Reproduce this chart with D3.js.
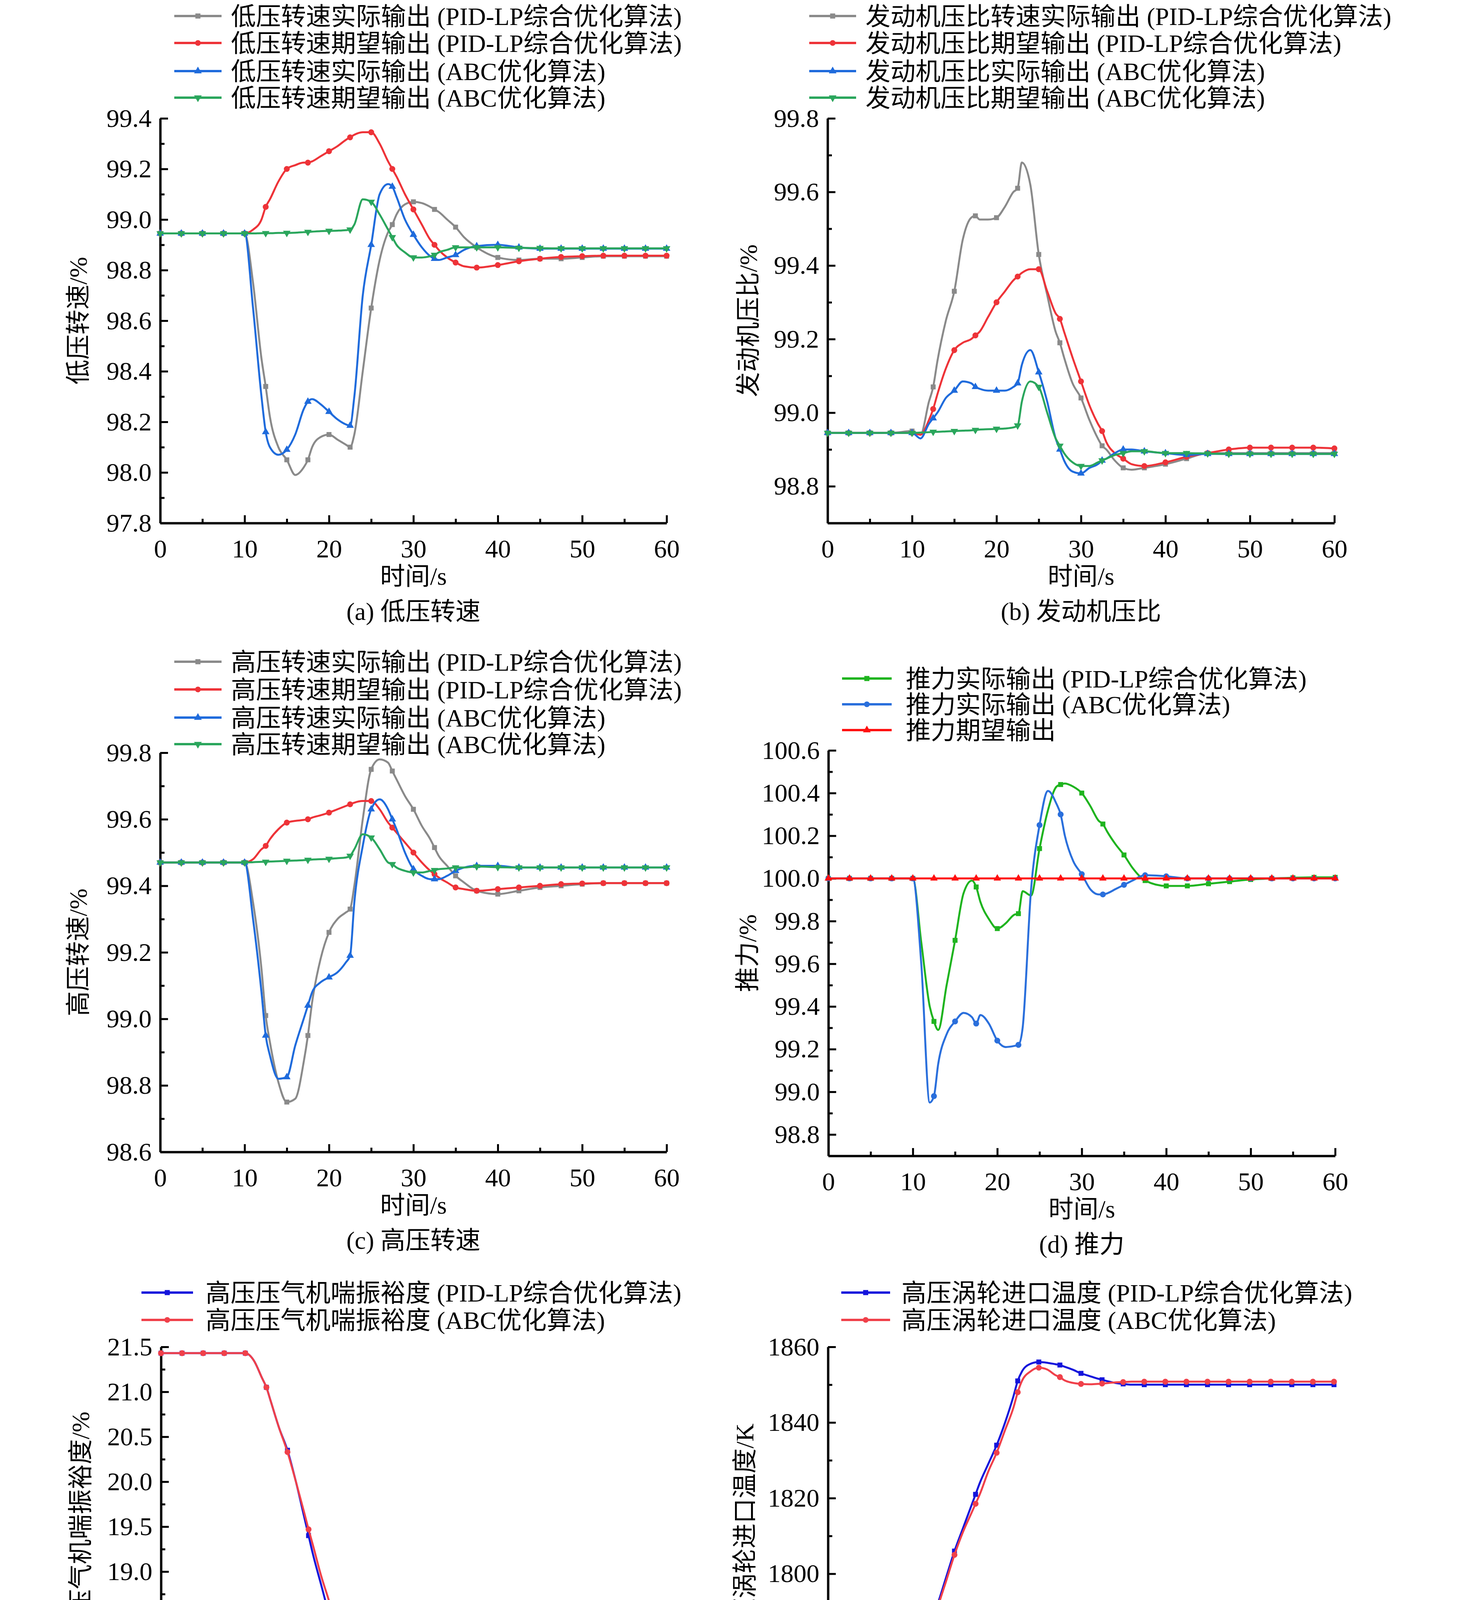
<!DOCTYPE html>
<html>
<head>
<meta charset="utf-8">
<script src="https://cdn.jsdelivr.net/npm/d3@7"></script>
<style>
  html, body { margin: 0; padding: 0; background: #fff; }
  svg { display: block; }
  text { font-family: "Liberation Serif", "Noto Sans CJK SC", serif; fill: #000; }
</style>
</head>
<body>
<svg id="chart" width="3780" height="7813" viewBox="0 0 3780 7813"></svg>
<script>
// time points shared by every series
var T = [0, 2.5, 5, 7.5, 10, 11, 12, 12.5, 13, 14, 15, 16, 17, 17.5, 18, 19, 20, 21, 22, 22.5,
  23, 24, 25, 26, 27, 27.5, 28, 29, 30, 31, 32, 32.5, 33, 34, 35, 36, 37.5, 40, 42.5, 45,
  47.5, 50, 52.5, 55, 57.5, 60];

// (a) low pressure spool speed
var aGray = [98.945,98.945,98.945,98.945,98.945, 98.75,98.45,98.34,98.22,98.1, 98.05,97.99,98.02,98.05,98.1,
  98.14,98.15,98.13,98.11,98.10, 98.15,98.4,98.65,98.84,98.95, 98.98,99.02,99.06,99.07,99.065,
  99.05,99.04,99.03,99.0,98.97, 98.93,98.89,98.85,98.84,98.845, 98.845,98.85,98.855,98.855,98.855, 98.855];
var aRed = [98.945,98.945,98.945,98.945,98.945, 98.96,99.0,99.05,99.08,99.15, 99.2,99.215,99.225,99.225,99.23,
  99.25,99.27,99.29,99.315,99.325, 99.335,99.345,99.345,99.3,99.23, 99.2,99.17,99.1,99.04,98.98,
  98.92,98.9,98.88,98.85,98.83, 98.815,98.81,98.82,98.835,98.845, 98.852,98.855,98.857,98.857,98.857, 98.857];
var aBlue = [98.945,98.945,98.945,98.945,98.945, 98.65,98.3,98.16,98.1,98.07, 98.09,98.15,98.25,98.28,98.29,
  98.27,98.24,98.21,98.19,98.185, 98.3,98.7,98.9,99.1,99.14, 99.13,99.09,99.0,98.94,98.89,
  98.855,98.845,98.84,98.85,98.86, 98.88,98.895,98.9,98.89,98.885, 98.885,98.885,98.885,98.885,98.885, 98.885];
var aGreen = [98.945,98.945,98.945,98.945,98.945, 98.945,98.946,98.946,98.946,98.947, 98.947,98.948,98.95,98.951,98.952,
  98.954,98.955,98.956,98.958,98.96, 98.98,99.08,99.07,99.02,98.96, 98.93,98.9,98.87,98.85,98.85,
  98.855,98.86,98.87,98.88,98.89, 98.89,98.89,98.89,98.888,98.887, 98.886,98.886,98.886,98.886,98.886, 98.886];

// (b) engine pressure ratio
var bGray = [98.945,98.945,98.945,98.945,98.95, 98.94,99.03,99.07,99.14,99.25, 99.33,99.47,99.53,99.535,99.525,
  99.525,99.53,99.56,99.6,99.61, 99.68,99.62,99.43,99.32,99.22, 99.19,99.15,99.08,99.04,98.98,
  98.93,98.91,98.9,98.87,98.85, 98.845,98.85,98.86,98.875,98.89, 98.89,98.89,98.89,98.89,98.89, 98.89];
var bRed = [98.945,98.945,98.945,98.945,98.945, 98.94,98.98,99.01,99.05,99.12, 99.17,99.19,99.2,99.21,99.22,
  99.26,99.3,99.33,99.36,99.37, 99.38,99.39,99.39,99.33,99.27, 99.255,99.22,99.15,99.085,99.02,
  98.97,98.95,98.92,98.89,98.875, 98.86,98.855,98.865,98.88,98.89, 98.9,98.905,98.905,98.905,98.905, 98.903];
var bBlue = [98.945,98.945,98.945,98.945,98.945, 98.93,98.97,98.985,99.0,99.04, 99.06,99.085,99.08,99.07,99.065,
  99.06,99.06,99.06,99.07,99.08, 99.13,99.17,99.11,99.03,98.93, 98.9,98.87,98.84,98.835,98.85,
  98.86,98.87,98.875,98.89,98.9, 98.9,98.895,98.89,98.885,98.888, 98.888,98.888,98.888,98.888,98.888, 98.888];
var bGreen = [98.945,98.945,98.945,98.945,98.945, 98.946,98.947,98.948,98.948,98.949, 98.95,98.951,98.952,98.953,98.954,
  98.955,98.956,98.957,98.96,98.965, 99.03,99.085,99.07,99.0,98.93, 98.91,98.89,98.865,98.855,98.855,
  98.865,98.87,98.875,98.885,98.89, 98.895,98.895,98.89,98.89,98.889, 98.888,98.888,98.888,98.888,98.888, 98.888];

// (c) high pressure spool speed
var cGray = [99.47,99.47,99.47,99.47,99.47, 99.35,99.15,99.01,98.93,98.81, 98.75,98.76,98.87,98.95,99.05,
  99.18,99.26,99.3,99.32,99.33, 99.4,99.6,99.75,99.78,99.77, 99.745,99.72,99.67,99.63,99.58,
  99.54,99.515,99.49,99.46,99.43, 99.41,99.385,99.375,99.385,99.395, 99.4,99.405,99.408,99.408,99.408, 99.408];
var cRed = [99.47,99.47,99.47,99.47,99.47, 99.48,99.51,99.52,99.54,99.57, 99.59,99.595,99.598,99.6,99.605,
  99.612,99.62,99.63,99.64,99.645, 99.65,99.655,99.655,99.63,99.59, 99.575,99.56,99.53,99.5,99.47,
  99.445,99.435,99.425,99.41,99.395, 99.39,99.385,99.39,99.395,99.4, 99.405,99.407,99.408,99.408,99.408, 99.408];
var cBlue = [99.47,99.47,99.47,99.47,99.47, 99.3,99.08,98.95,98.89,98.82, 98.825,98.92,99.0,99.04,99.08,
  99.11,99.125,99.14,99.17,99.19, 99.35,99.52,99.63,99.66,99.63, 99.6,99.57,99.5,99.45,99.43,
  99.42,99.42,99.42,99.43,99.445, 99.455,99.46,99.46,99.455,99.455, 99.455,99.455,99.455,99.455,99.455, 99.455];
var cGreen = [99.47,99.47,99.47,99.47,99.47, 99.471,99.472,99.472,99.473,99.474, 99.475,99.476,99.477,99.478,99.479,
  99.48,99.481,99.483,99.485,99.49, 99.51,99.555,99.545,99.51,99.47, 99.465,99.455,99.445,99.44,99.44,
  99.445,99.447,99.45,99.452,99.455, 99.455,99.458,99.456,99.455,99.455, 99.455,99.455,99.455,99.455,99.455, 99.455];

// (d) thrust
var dGreen = [100,100,100,100,100, 99.7,99.4,99.33,99.29,99.5, 99.71,99.93,99.99,99.96,99.89,
  99.81,99.765,99.79,99.83,99.835, 99.94,99.92,100.14,100.32,100.43, 100.44,100.445,100.43,100.40,100.34,
  100.27,100.255,100.22,100.16,100.11, 100.05,99.99,99.965,99.965,99.975, 99.985,99.995,100.0,100.003,100.005, 100.005];
var dBlue = [100,100,100,100,100, 99.6,98.95,98.98,99.13,99.27, 99.33,99.37,99.35,99.32,99.36,
  99.32,99.24,99.21,99.215,99.22, 99.3,99.95,100.25,100.41,100.35, 100.3,100.2,100.08,100.02,99.95,
  99.925,99.925,99.93,99.95,99.97, 99.99,100.015,100.01,100.0,100.0, 100,100,100,100,100, 100];
var dRed = T.map(function () { return 100; });

// (e) HPC surge margin
var eBlue = [21.43,21.43,21.43,21.43,21.43, 21.35,21.15,21.05,20.9,20.6, 20.35,20.0,19.6,19.4,19.2,
  18.85,18.5,18.2,17.9,17.74, 17.73,17.95,18.05,18.06,18.06, 18.05,18.03,18.0,17.97,17.94,
  17.92,17.91,17.895,17.88,17.87, 17.865,17.865,17.86,17.85,17.845, 17.845,17.845,17.845,17.845,17.845, 17.845];
var eRed = [21.43,21.43,21.43,21.43,21.43, 21.35,21.15,21.05,20.9,20.6, 20.33,20.0,19.65,19.47,19.3,
  18.95,18.65,18.3,18.0,17.85, 17.72,17.9,17.97,18.0,17.99, 17.96,17.93,17.9,17.88,17.87,
  17.86,17.86,17.865,17.87,17.875, 17.88,17.885,17.885,17.885,17.885, 17.885,17.885,17.885,17.885,17.885, 17.885];

// (f) HPT inlet temperature
var fBlue = [1775,1775,1775,1775,1775, 1777,1785,1789,1792,1799, 1806,1812,1818,1821,1824,
  1829,1834,1840,1847,1851, 1853.5,1855.5,1856,1855.8,1855.4, 1855.2,1854.8,1854,1853,1852.3,
  1851.6,1851.3,1851,1850.5,1850.2, 1850,1850,1850,1850,1850, 1850,1850,1850,1850,1850, 1850];
var fRed = [1775,1775,1775,1775,1775, 1776,1783,1787,1791,1798, 1805,1811,1816,1818.5,1821,
  1827,1832,1838,1844,1848, 1851,1853.5,1854.5,1854,1852.5, 1852,1851.2,1850.5,1850.2,1850.1,
  1850.2,1850.3,1850.4,1850.6,1850.7, 1850.8,1850.8,1850.8,1850.8,1850.8, 1850.8,1850.8,1850.8,1850.8,1850.8, 1850.8];

// (g) main fuel flow
var gBlue = [98.38,98.38,98.38,98.38,98.4, 98.65,99.1,99.35,99.6,100.1, 100.6,101.05,101.4,101.6,101.8,
  102.1,102.45,102.9,103.35,103.55, 103.75,103.93,103.98,103.98,103.97, 103.95,103.92,103.85,103.77,103.68,
  103.62,103.6,103.57,103.53,103.51, 103.5,103.49,103.485,103.485,103.49, 103.495,103.5,103.5,103.5,103.5, 103.5];
var gRed = [98.38,98.38,98.38,98.38,98.38, 98.5,98.9,99.15,99.4,99.9, 100.35,100.8,101.15,101.3,101.5,
  101.85,102.2,102.6,103.05,103.3, 103.55,103.82,103.89,103.85,103.75, 103.7,103.62,103.53,103.48,103.47,
  103.47,103.48,103.5,103.52,103.53, 103.535,103.54,103.535,103.53,103.53, 103.53,103.53,103.53,103.53,103.53, 103.53];

// (h) nozzle throat area
var hBlue = [95.17,95.17,95.17,95.17,95.17, 95.17,95.2,95.25,95.3,95.4, 95.6,96.0,96.4,96.65,96.9,
  97.4,97.9,98.3,98.65,98.85, 99.2,99.7,99.9,99.93,99.88, 99.85,99.8,99.72,99.64,99.56,
  99.5,99.47,99.44,99.39,99.35, 99.32,99.3,99.3,99.31,99.32, 99.33,99.34,99.34,99.345,99.345, 99.345];
var hRed = [95.17,95.17,95.17,95.17,95.17, 95.15,95.1,95.15,95.3,95.55, 95.85,96.4,96.8,97.0,97.3,
  97.7,97.95,98.3,98.75,98.95, 99.2,99.65,99.8,99.83,99.72, 99.67,99.6,99.47,99.42,99.4,
  99.4,99.41,99.42,99.44,99.455, 99.465,99.47,99.47,99.465,99.465, 99.465,99.465,99.465,99.465,99.465, 99.465];

// (i) rear variable bypass ejector area
var iBlue = [112.7,112.7,112.7,112.7,112.7, 112.2,110.8,109.8,108.5,105.5, 101.5,97.2,92.5,90.8,89.3,
  86.7,84.3,82.7,81.0,80.0, 79.3,78.3,78.4,79.2,80.0, 80.3,80.8,81.5,82.2,82.8,
  83.3,83.5,83.7,84.0,84.3, 84.45,84.5,84.35,84.15,84.05, 84.0,83.95,83.95,83.95,83.95, 83.95];
var iRed = [112.5,112.5,112.5,112.5,112.5, 112.0,110.3,109.0,107.5,104.3, 100.4,96.5,94.0,92.7,91.5,
  89.3,87.2,85.5,83.8,82.7, 81.9,81.1,81.3,82.1,82.9, 83.1,83.4,83.8,84.0,83.95,
  83.8,83.7,83.6,83.45,83.4, 83.38,83.38,83.45,83.45,83.45, 83.45,83.45,83.45,83.45,83.45, 83.45];

var svg = d3.select("#chart");
var FONT = 64;

function drawPanel(p) {
  var x = d3.scaleLinear().domain([0, 60]).range([p.x0, p.x1]);
  var y = d3.scaleLinear().domain(p.yDomain).range([p.yBottom, p.yTop]);
  var g = svg.append("g");

  // axes with inward ticks
  var xMinor = d3.range(0, 61, 5).filter(function (v) { return v % 10 != 0; });
  g.append("g").attr("transform", "translate(0," + p.yBottom + ")")
    .call(d3.axisBottom(x).tickValues(xMinor).tickSize(-11).tickFormat(""))
    .call(function (s) { s.select(".domain").remove(); s.selectAll("line").attr("stroke-width", 5); });
  var xa = g.append("g").attr("transform", "translate(0," + p.yBottom + ")")
    .call(d3.axisBottom(x).tickValues(d3.range(0, 61, 10)).tickSize(-20).tickPadding(40).tickSizeOuter(0));
  xa.selectAll("text").attr("font-size", 66).attr("dy", "0.72em");

  var yMinor = d3.range(p.yDomain[0], p.yDomain[1] + 1e-9, p.step / 2)
    .filter(function (v) { return Math.abs(v / p.step - Math.round(v / p.step)) > 1e-6; });
  g.append("g").attr("transform", "translate(" + p.x0 + ",0)")
    .call(d3.axisLeft(y).tickValues(yMinor).tickSize(-11).tickFormat(""))
    .call(function (s) { s.select(".domain").remove(); s.selectAll("line").attr("stroke-width", 5); });
  var yMajor = d3.range(Math.ceil(p.yDomain[0] / p.step - 1e-6) * p.step, p.yDomain[1] + 1e-9, p.step);
  var ya = g.append("g").attr("transform", "translate(" + p.x0 + ",0)")
    .call(d3.axisLeft(y).tickValues(yMajor).tickSize(-20).tickPadding(22).tickSizeOuter(0).tickFormat(d3.format(p.fmt)));
  ya.selectAll("text").attr("font-size", 66);
  [xa, ya].forEach(function (a) {
    a.select(".domain").attr("stroke-width", 6);
    a.selectAll(".tick line").attr("stroke-width", 5);
    a.attr("font-family", null);
  });

  // series
  var line = d3.line().x(function (d) { return x(d[0]); }).y(function (d) { return y(d[1]); })
    .curve(d3.curveMonotoneX);
  p.series.forEach(function (s) {
    var pts = T.map(function (t, i) { return [t, s.values[i]]; });
    g.append("path").datum(pts).attr("d", line).attr("fill", "none")
      .attr("stroke", s.color).attr("stroke-width", 5);
    g.selectAll(null).data(pts.filter(function (d) { return d[0] % 2.5 === 0; })).enter()
      .append("path")
      .attr("d", d3.symbol().type(s.symbol).size(s.symbol === d3.symbolCircle ? 180 : 160))
      .attr("transform", function (d) {
        return "translate(" + x(d[0]) + "," + y(d[1]) + ")" + (s.flip ? " rotate(180)" : "");
      })
      .attr("fill", s.color);
  });

  // legend
  p.series.forEach(function (s, i) {
    var ly = p.legendY[i];
    g.append("line").attr("x1", p.legX0).attr("x2", p.legX1).attr("y1", ly).attr("y2", ly)
      .attr("stroke", s.color).attr("stroke-width", 6);
    g.append("path").attr("d", d3.symbol().type(s.symbol).size(170))
      .attr("transform", "translate(" + (p.legX0 + p.legX1) / 2 + "," + ly + ")" + (s.flip ? " rotate(180)" : ""))
      .attr("fill", s.color);
    g.append("text").attr("x", p.legText).attr("y", ly).attr("dy", "0.36em")
      .attr("font-size", FONT).text(s.name);
  });

  // titles
  var cx = (p.x0 + p.x1) / 2;
  g.append("text").attr("x", cx).attr("y", p.yBottom + 135).attr("dy", "0.36em")
    .attr("text-anchor", "middle").attr("font-size", FONT).text("时间/s");
  g.append("text").attr("x", cx).attr("y", p.yBottom + 225).attr("dy", "0.36em")
    .attr("text-anchor", "middle").attr("font-size", FONT).text(p.caption);
  g.append("text").attr("transform", "translate(" + p.yTitleX + "," + (p.yTop + p.yBottom) / 2 + ") rotate(-90)")
    .attr("dy", "0.36em").attr("text-anchor", "middle").attr("font-size", FONT).text(p.yTitle);
}

var SQ = d3.symbolSquare, CI = d3.symbolCircle, TR = d3.symbolTriangle;
var GRAY = "#8a8a8a", RED = "#ee3338", BLUE = "#1f6bdc", GREEN = "#2aa65c";

var leftA = { x0: 410, x1: 1706, legX0: 446, legX1: 567, legText: 591 };
var rightB = { x0: 2118, x1: 3415, legX0: 2071, legX1: 2191, legText: 2215 };

drawPanel(Object.assign({}, leftA, {
  yDomain: [97.8, 99.4], yTop: 303, yBottom: 1339, step: 0.2, fmt: ".1f", yTitleX: 199,
  yTitle: "低压转速/%", caption: "(a) 低压转速", legendY: [41, 110, 182, 250],
  series: [
    { name: "低压转速实际输出 (PID-LP综合优化算法)", values: aGray, color: GRAY, symbol: SQ },
    { name: "低压转速期望输出 (PID-LP综合优化算法)", values: aRed, color: RED, symbol: CI },
    { name: "低压转速实际输出 (ABC优化算法)", values: aBlue, color: BLUE, symbol: TR },
    { name: "低压转速期望输出 (ABC优化算法)", values: aGreen, color: GREEN, symbol: TR, flip: true }
  ]
}));
drawPanel(Object.assign({}, rightB, {
  yDomain: [98.7, 99.8], yTop: 303, yBottom: 1339, step: 0.2, fmt: ".1f", yTitleX: 1914,
  yTitle: "发动机压比/%", caption: "(b) 发动机压比", legendY: [41, 110, 182, 250],
  series: [
    { name: "发动机压比转速实际输出 (PID-LP综合优化算法)", values: bGray, color: GRAY, symbol: SQ },
    { name: "发动机压比期望输出 (PID-LP综合优化算法)", values: bRed, color: RED, symbol: CI },
    { name: "发动机压比实际输出 (ABC优化算法)", values: bBlue, color: BLUE, symbol: TR },
    { name: "发动机压比期望输出 (ABC优化算法)", values: bGreen, color: GREEN, symbol: TR, flip: true }
  ]
}));
drawPanel(Object.assign({}, leftA, {
  yDomain: [98.6, 99.8], yTop: 1927, yBottom: 2949, step: 0.2, fmt: ".1f", yTitleX: 199,
  yTitle: "高压转速/%", caption: "(c) 高压转速", legendY: [1694, 1765, 1837, 1905],
  series: [
    { name: "高压转速实际输出 (PID-LP综合优化算法)", values: cGray, color: GRAY, symbol: SQ },
    { name: "高压转速期望输出 (PID-LP综合优化算法)", values: cRed, color: RED, symbol: CI },
    { name: "高压转速实际输出 (ABC优化算法)", values: cBlue, color: BLUE, symbol: TR },
    { name: "高压转速期望输出 (ABC优化算法)", values: cGreen, color: GREEN, symbol: TR, flip: true }
  ]
}));
drawPanel({
  x0: 2120, x1: 3417, legX0: 2155, legX1: 2282, legText: 2318,
  yDomain: [98.7, 100.6], yTop: 1921, yBottom: 2959, step: 0.2, fmt: ".1f", yTitleX: 1912,
  yTitle: "推力/%", caption: "(d) 推力", legendY: [1737, 1803, 1869],
  series: [
    { name: "推力实际输出 (PID-LP综合优化算法)", values: dGreen, color: "#1fb41f", symbol: SQ },
    { name: "推力实际输出 (ABC优化算法)", values: dBlue, color: "#2a6fdc", symbol: CI },
    { name: "推力期望输出", values: dRed, color: "#ff1010", symbol: TR }
  ]
});
drawPanel({
  x0: 412, x1: 1707, legX0: 362, legX1: 494, legText: 526,
  yDomain: [17.25, 21.5], yTop: 3448, yBottom: 4426, step: 0.5, fmt: ".1f", yTitleX: 205,
  yTitle: "高压压气机喘振裕度/%", caption: "(e) 高压压气机喘振裕度", legendY: [3309, 3379],
  series: [
    { name: "高压压气机喘振裕度 (PID-LP综合优化算法)", values: eBlue, color: "#1414dc", symbol: SQ },
    { name: "高压压气机喘振裕度 (ABC优化算法)", values: eRed, color: "#f0404a", symbol: CI }
  ]
});
drawPanel({
  x0: 2119, x1: 3414, legX0: 2153, legX1: 2278, legText: 2307,
  yDomain: [1760, 1860], yTop: 3448, yBottom: 4416, step: 20, fmt: "d", yTitleX: 1905,
  yTitle: "高压涡轮进口温度/K", caption: "(f) 高压涡轮进口温度", legendY: [3309, 3379],
  series: [
    { name: "高压涡轮进口温度 (PID-LP综合优化算法)", values: fBlue, color: "#1414dc", symbol: SQ },
    { name: "高压涡轮进口温度 (ABC优化算法)", values: fRed, color: "#f0404a", symbol: CI }
  ]
});
drawPanel({
  x0: 412, x1: 1707, legX0: 446, legX1: 567, legText: 603,
  yDomain: [97.5, 105], yTop: 4930, yBottom: 6039, step: 1, fmt: "d", yTitleX: 229,
  yTitle: "主燃油流量/%", caption: "(g) 主燃油流量", legendY: [4795, 4876],
  series: [
    { name: "主燃油流量 (PID-LP综合优化算法)", values: gBlue, color: BLUE, symbol: SQ },
    { name: "主燃油流量 (ABC优化算法)", values: gRed, color: RED, symbol: CI }
  ]
});
drawPanel({
  x0: 2119, x1: 3414, legX0: 2073, legX1: 2194, legText: 2230,
  yDomain: [94.5, 100], yTop: 4934, yBottom: 5996, step: 1, fmt: "d", yTitleX: 1929,
  yTitle: "尾喷管喉道截面面积/%", caption: "(h) 尾喷管喉道截面面积", legendY: [4795, 4876],
  series: [
    { name: "尾喷管喉道截面面积 (PID-LP综合优化算法)", values: hBlue, color: BLUE, symbol: SQ },
    { name: "尾喷管喉道截面面积 (ABC优化算法)", values: hRed, color: RED, symbol: CI }
  ]
});
drawPanel({
  x0: 1275, x1: 2573, legX0: 1161, legX1: 1285, legText: 1318,
  yDomain: [75, 115], yTop: 6579, yBottom: 7548, step: 5, fmt: "d", yTitleX: 1070,
  yTitle: "后可调面积涵道引射器面积/%", caption: "(i) 后可调面积涵道引射器面积", legendY: [6426, 6509],
  series: [
    { name: "后可调面积涵道引射器面积 (PID-LP综合优化算法)", values: iBlue, color: BLUE, symbol: SQ },
    { name: "后可调面积涵道引射器面积 (ABC优化算法)", values: iRed, color: RED, symbol: CI }
  ]
});
</script>
</body>
</html>
